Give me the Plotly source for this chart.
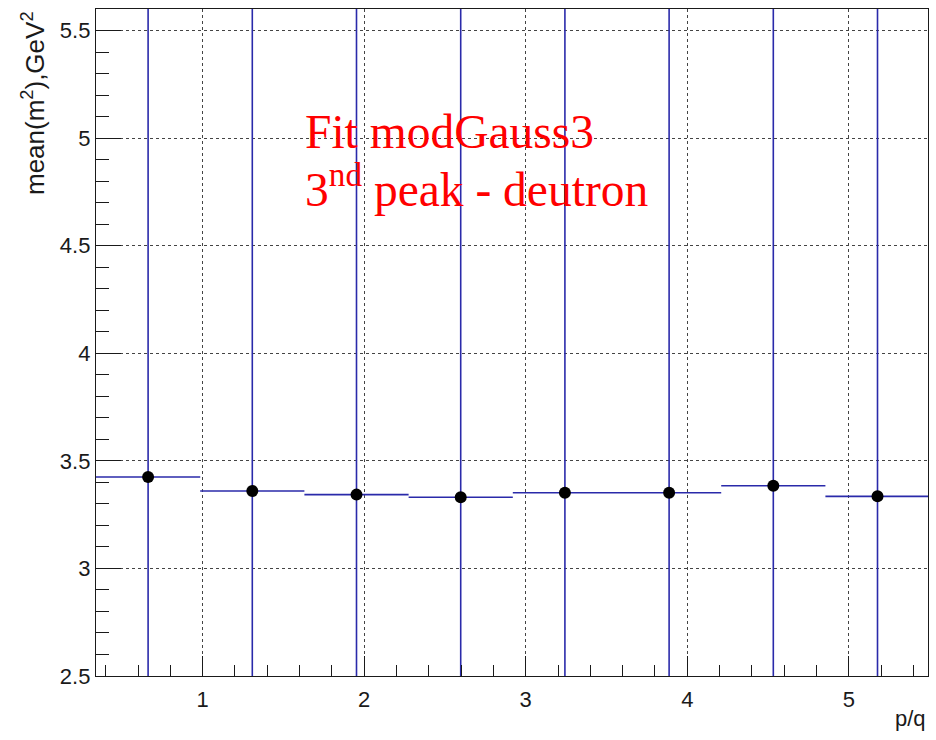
import plotly.graph_objects as go

# Histogram of mean(m^2) for the deutron peak, per p/q bin
bin_edges = [0.34, 0.985, 1.63, 2.275, 2.92, 3.565, 4.21, 4.855, 5.5]
mean_m2 = [3.425, 3.360, 3.343, 3.331, 3.352, 3.352, 3.384, 3.335]
mean_m2_err = [2.6, 2.6, 2.6, 2.6, 2.6, 2.6, 2.6, 2.6]

x_ticks = [1, 2, 3, 4, 5]
y_ticks = [2.5, 3, 3.5, 4, 4.5, 5, 5.5]

centers = [(a + b) / 2 for a, b in zip(bin_edges[:-1], bin_edges[1:])]
half_w = [(b - a) / 2 for a, b in zip(bin_edges[:-1], bin_edges[1:])]

BLUE = "#2a2aaa"
AXIS = "#1a1a1a"

fig = go.Figure()
fig.add_trace(go.Scatter(
    x=centers, y=mean_m2, mode="markers",
    marker=dict(color="black", size=12, symbol="circle"),
    error_x=dict(type="data", array=half_w, color=BLUE, thickness=1.6, width=0),
    error_y=dict(type="data", array=mean_m2_err, color=BLUE, thickness=1.6, width=0),
    showlegend=False, cliponaxis=True,
))

tick_font = dict(family="Liberation Sans, Arial, sans-serif", size=22, color=AXIS)

fig.update_layout(
    width=936, height=740,
    margin=dict(l=96, r=8, t=9, b=64),
    paper_bgcolor="white", plot_bgcolor="white",
    xaxis=dict(
        range=[0.34, 5.49], tickvals=x_ticks, ticktext=[str(v) for v in x_ticks],
        ticks="inside", ticklen=20, tickwidth=1, tickcolor=AXIS,
        minor=dict(dtick=0.2, tick0=0, ticks="inside", ticklen=11, tickcolor=AXIS, showgrid=False),
        showline=True, linecolor=AXIS, linewidth=1.3, mirror=True,
        showgrid=True, gridcolor="#444444", griddash="dot", gridwidth=1,
        zeroline=False, tickfont=tick_font, ticklabelstandoff=3,
    ),
    yaxis=dict(
        range=[2.5, 5.6], tickvals=y_ticks, ticktext=["2.5", "3", "3.5", "4", "4.5", "5", "5.5"],
        ticks="inside", ticklen=25, tickwidth=1, tickcolor=AXIS,
        minor=dict(dtick=0.1, tick0=0, ticks="inside", ticklen=13, tickcolor=AXIS, showgrid=False),
        showline=True, linecolor=AXIS, linewidth=1.3, mirror=True,
        showgrid=True, gridcolor="#444444", griddash="dot", gridwidth=1,
        zeroline=False, tickfont=tick_font,
    ),
    annotations=[
        dict(text="mean(m<sup>2</sup>),GeV<sup>2</sup>", textangle=-90,
             xref="paper", yref="paper", x=0, y=1, xanchor="center", yanchor="top",
             xshift=-63, showarrow=False,
             font=dict(family="Liberation Sans, Arial, sans-serif", size=26, color=AXIS)),
        dict(text="p/q", xref="paper", yref="paper", x=1, y=0, xanchor="right", yanchor="top",
             yshift=-28, showarrow=False,
             font=dict(family="Liberation Sans, Arial, sans-serif", size=22, color=AXIS)),
        dict(text="Fit modGauss3", xref="paper", yref="paper", x=(303 - 96) / 832, y=(676 - 132) / 667,
             xanchor="left", yanchor="middle", showarrow=False,
             font=dict(family="Liberation Serif, Times New Roman, serif", size=47.5, color="red")),
        dict(text="3<sup>nd</sup> peak - deutron", xref="paper", yref="paper",
             x=(303 - 96) / 832, y=(676 - 186) / 667,
             xanchor="left", yanchor="middle", showarrow=False,
             font=dict(family="Liberation Serif, Times New Roman, serif", size=47.5, color="red")),
    ],
)

fig.write_html("out.html")
